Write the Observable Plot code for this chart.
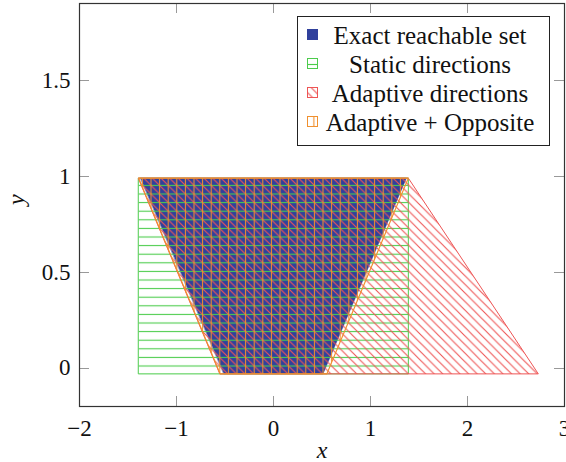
<!DOCTYPE html>
<html>
<head>
<meta charset="utf-8">
<script src="https://cdn.jsdelivr.net/npm/d3@7"></script>
<script src="https://cdn.jsdelivr.net/npm/@observablehq/plot@0.6"></script>
<style>
  html, body { margin: 0; padding: 0; background: #fff; }
</style>
</head>
<body>
<div id="chart"></div>
<script>
// ---- data ----
const xTicks = [-2, -1, 0, 1, 2, 3];
const yTicks = [0, 0.5, 1, 1.5];

const exactX = [-1.37, 1.37, 0.51, -0.51];
const exactY = [0.99, 0.99, -0.03, -0.03];

const staticX = [-1.39, 1.39, 1.39, -1.39];
const staticY = [0.99, 0.99, -0.03, -0.03];

const adaptiveX = [-1.39, 1.39, 2.73, -0.55];
const adaptiveY = [0.99, 0.99, -0.03, -0.03];

const oppositeX = [-1.39, 1.39, 0.55, -0.55];
const oppositeY = [0.99, 0.99, -0.03, -0.03];

const legendLabels = ["Exact reachable set", "Static directions", "Adaptive directions", "Adaptive + Opposite"];
const xLabel = "x";
const yLabel = "y";

// ---- styles ----
const BLUE = "#30409c";
const GREEN = "#4ccc4c";
const RED = "#ee5555";
const ORANGE = "#f0902e";
const SERIF = "'Liberation Serif', 'Times New Roman', serif";
const S = 8.6; // hatch spacing

const pts = (xs, ys) => xs.map((x, i) => ({x, y: ys[i]}));
const fmt = d => (d < 0 ? "\u2212" + (-d) : String(d));

function defsMark() {
  const g = d3.create("svg:g");
  const defs = g.append("defs");
  const ph = defs.append("pattern").attr("id", "hatch-h")
    .attr("patternUnits", "userSpaceOnUse").attr("width", S).attr("height", S);
  ph.append("line").attr("x1", 0).attr("x2", S).attr("y1", S / 2).attr("y2", S / 2)
    .attr("stroke", GREEN).attr("stroke-width", 1.1);
  const pd = defs.append("pattern").attr("id", "hatch-d")
    .attr("patternUnits", "userSpaceOnUse").attr("width", S).attr("height", S);
  pd.append("path").attr("d", `M0,0L${S},${S}M-2,${S - 2}L2,${S + 2}M${S - 2},-2L${S + 2},2`)
    .attr("stroke", RED).attr("stroke-width", 1.1);
  const pv = defs.append("pattern").attr("id", "hatch-v")
    .attr("patternUnits", "userSpaceOnUse").attr("width", S).attr("height", S);
  pv.append("line").attr("y1", 0).attr("y2", S).attr("x1", S / 2).attr("x2", S / 2)
    .attr("stroke", ORANGE).attr("stroke-width", 1.1);
  return g.node();
}

function ticksMark(index, scales, values, dim) {
  const g = d3.create("svg:g").attr("stroke", "#999").attr("stroke-width", 1);
  const L = dim.marginLeft, R = dim.width - dim.marginRight;
  const T = dim.marginTop, B = dim.height - dim.marginBottom;
  const len = 10;
  for (const t of xTicks) {
    const px = Math.round(scales.x(t)) + 0.5;
    g.append("line").attr("x1", px).attr("x2", px).attr("y1", B).attr("y2", B - len);
    g.append("line").attr("x1", px).attr("x2", px).attr("y1", T).attr("y2", T + len);
  }
  for (const t of yTicks) {
    const py = Math.round(scales.y(t)) + 0.5;
    g.append("line").attr("y1", py).attr("y2", py).attr("x1", L).attr("x2", L + len);
    g.append("line").attr("y1", py).attr("y2", py).attr("x1", R).attr("x2", R - len);
  }
  return g.node();
}

function legendMark(index, scales, values, dim) {
  const R = dim.width - dim.marginRight - 15;
  const T = dim.marginTop + 13;
  const W = 252, H = 129;
  const Lx = R - W;
  const g = d3.create("svg:g");
  g.append("rect").attr("x", Lx + 0.5).attr("y", T + 0.5).attr("width", W).attr("height", H)
    .attr("fill", "white").attr("stroke", "#222").attr("stroke-width", 1);
  const fills = [BLUE, "url(#hatch-h)", "url(#hatch-d)", "url(#hatch-v)"];
  const strokes = [BLUE, GREEN, RED, ORANGE];
  legendLabels.forEach((lab, i) => {
    const cy = T + 19 + i * 29;
    const ig = g.append("g");
    ig.append("rect").attr("x", Lx + 10.5).attr("y", cy - 5.5).attr("width", 10).attr("height", 10)
      .attr("fill", "white").attr("stroke", "none");
    ig.append("rect").attr("x", Lx + 10.5).attr("y", cy - 5.5).attr("width", 10).attr("height", 10)
      .attr("fill", fills[i]).attr("stroke", strokes[i]).attr("stroke-width", 1);
    g.append("text").attr("x", Lx + 133).attr("y", cy).attr("dy", "0.35em")
      .attr("text-anchor", "middle").attr("font-family", SERIF).attr("font-size", 25)
      .attr("fill", "#111").text(lab);
  });
  return g.node();
}

const chart = Plot.plot({
  width: 566,
  height: 462,
  marginLeft: 79,
  marginRight: 2,
  marginTop: 3,
  marginBottom: 56,
  style: {fontFamily: SERIF, fontSize: "23px", color: "#111", background: "white"},
  x: {domain: [-2, 3]},
  y: {domain: [-0.2, 1.9]},
  marks: [
    defsMark,
    Plot.line(pts(exactX, exactY), {x: "x", y: "y", curve: "linear-closed", fill: BLUE, stroke: BLUE, strokeWidth: 0.5}),
    Plot.line(pts(staticX, staticY), {x: "x", y: "y", curve: "linear-closed", fill: "url(#hatch-h)", stroke: GREEN, strokeWidth: 1}),
    Plot.line(pts(adaptiveX, adaptiveY), {x: "x", y: "y", curve: "linear-closed", fill: "url(#hatch-d)", stroke: RED, strokeWidth: 1}),
    Plot.line(pts(oppositeX, oppositeY), {x: "x", y: "y", curve: "linear-closed", fill: "url(#hatch-v)", stroke: ORANGE, strokeWidth: 1.2}),
    Plot.axisX({ticks: xTicks, tickSize: 0, tickPadding: 13, tickFormat: fmt, label: null}),
    Plot.axisY({ticks: yTicks, tickSize: 0, tickPadding: 9, tickFormat: fmt, label: null}),
    ticksMark,
    Plot.frame({stroke: "#333", strokeWidth: 1.2}),
    legendMark,
    Plot.text([xLabel], {frameAnchor: "bottom", lineAnchor: "middle", dy: 44, text: d => d, fontStyle: "italic", fontSize: 24}),
    Plot.text([yLabel], {frameAnchor: "left", lineAnchor: "middle", dx: -63, rotate: -90, text: d => d, fontStyle: "italic", fontSize: 24})
  ]
});
document.getElementById("chart").appendChild(chart);
</script>
</body>
</html>
